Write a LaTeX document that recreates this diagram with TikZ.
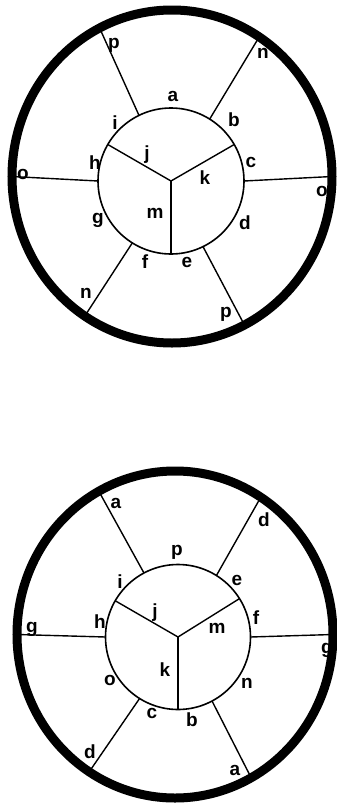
\documentclass[tikz,border=0pt]{standalone}
\usepackage{fontspec}
\setmainfont{Liberation Sans}
\usetikzlibrary{shapes.geometric}
\begin{document}
\begin{tikzpicture}[x=1pt,y=-1pt,every node/.style={font=\fontsize{19}{19}\selectfont\bfseries},rim/.style={ellipse,draw,line width=9pt,inner sep=0pt,outer sep=0pt},hub/.style={circle,draw,line width=1.6pt,inner sep=0pt,outer sep=0pt},spoke/.style={line width=1.4pt},letter/.style={inner sep=0pt}]
\useasboundingbox[fill=white] (0,0) rectangle (337,804);
% upper wheel
\node[rim,minimum width=320pt,minimum height=333pt] (Uout) at (172,176.5) {};
\node[hub,minimum size=146pt] (Uin) at (171,181) {};
\foreach \ang in {30,150,270}{\draw[spoke] (Uin.center) -- (Uin.\ang);}
\foreach \ang in {0,58,116,180,238,296}{\draw[spoke] (Uin.\ang) -- (Uout.\ang);}
\foreach \txt/\x/\y [count=\i] in {p/114/45,n/263/53,a/173/96,i/115/123,b/234/120,j/147/155,h/95/163,c/251/162,k/205/178,o/23/174,o/322/191,g/98/220,m/155/213,d/245/223,f/145/262,e/187/262,n/86/293,p/226/314}{\node[letter] (U\i) at (\x,\y) {\txt};}
% lower wheel
\node[rim,minimum width=316pt,minimum height=327pt] (Lout) at (175,634.5) {};
\node[hub,minimum size=145pt] (Lin) at (178,637) {};
\foreach \ang in {32,150,270}{\draw[spoke] (Lin.center) -- (Lin.\ang);}
\foreach \ang in {0,58,118,180,238,298}{\draw[spoke] (Lin.\ang) -- (Lout.\ang);}
\foreach \txt/\x/\y [count=\i] in {a/116/503,d/264/520,p/177/552,i/120/582,e/237/580,j/155/613,h/100/622,f/256/618,m/217/628,g/32/629,g/327/650,k/165/670,o/110/680,n/247/683,c/152/713,b/192/720,d/90/752,a/235/770}{\node[letter] (L\i) at (\x,\y) {\txt};}
\end{tikzpicture}
\end{document}
